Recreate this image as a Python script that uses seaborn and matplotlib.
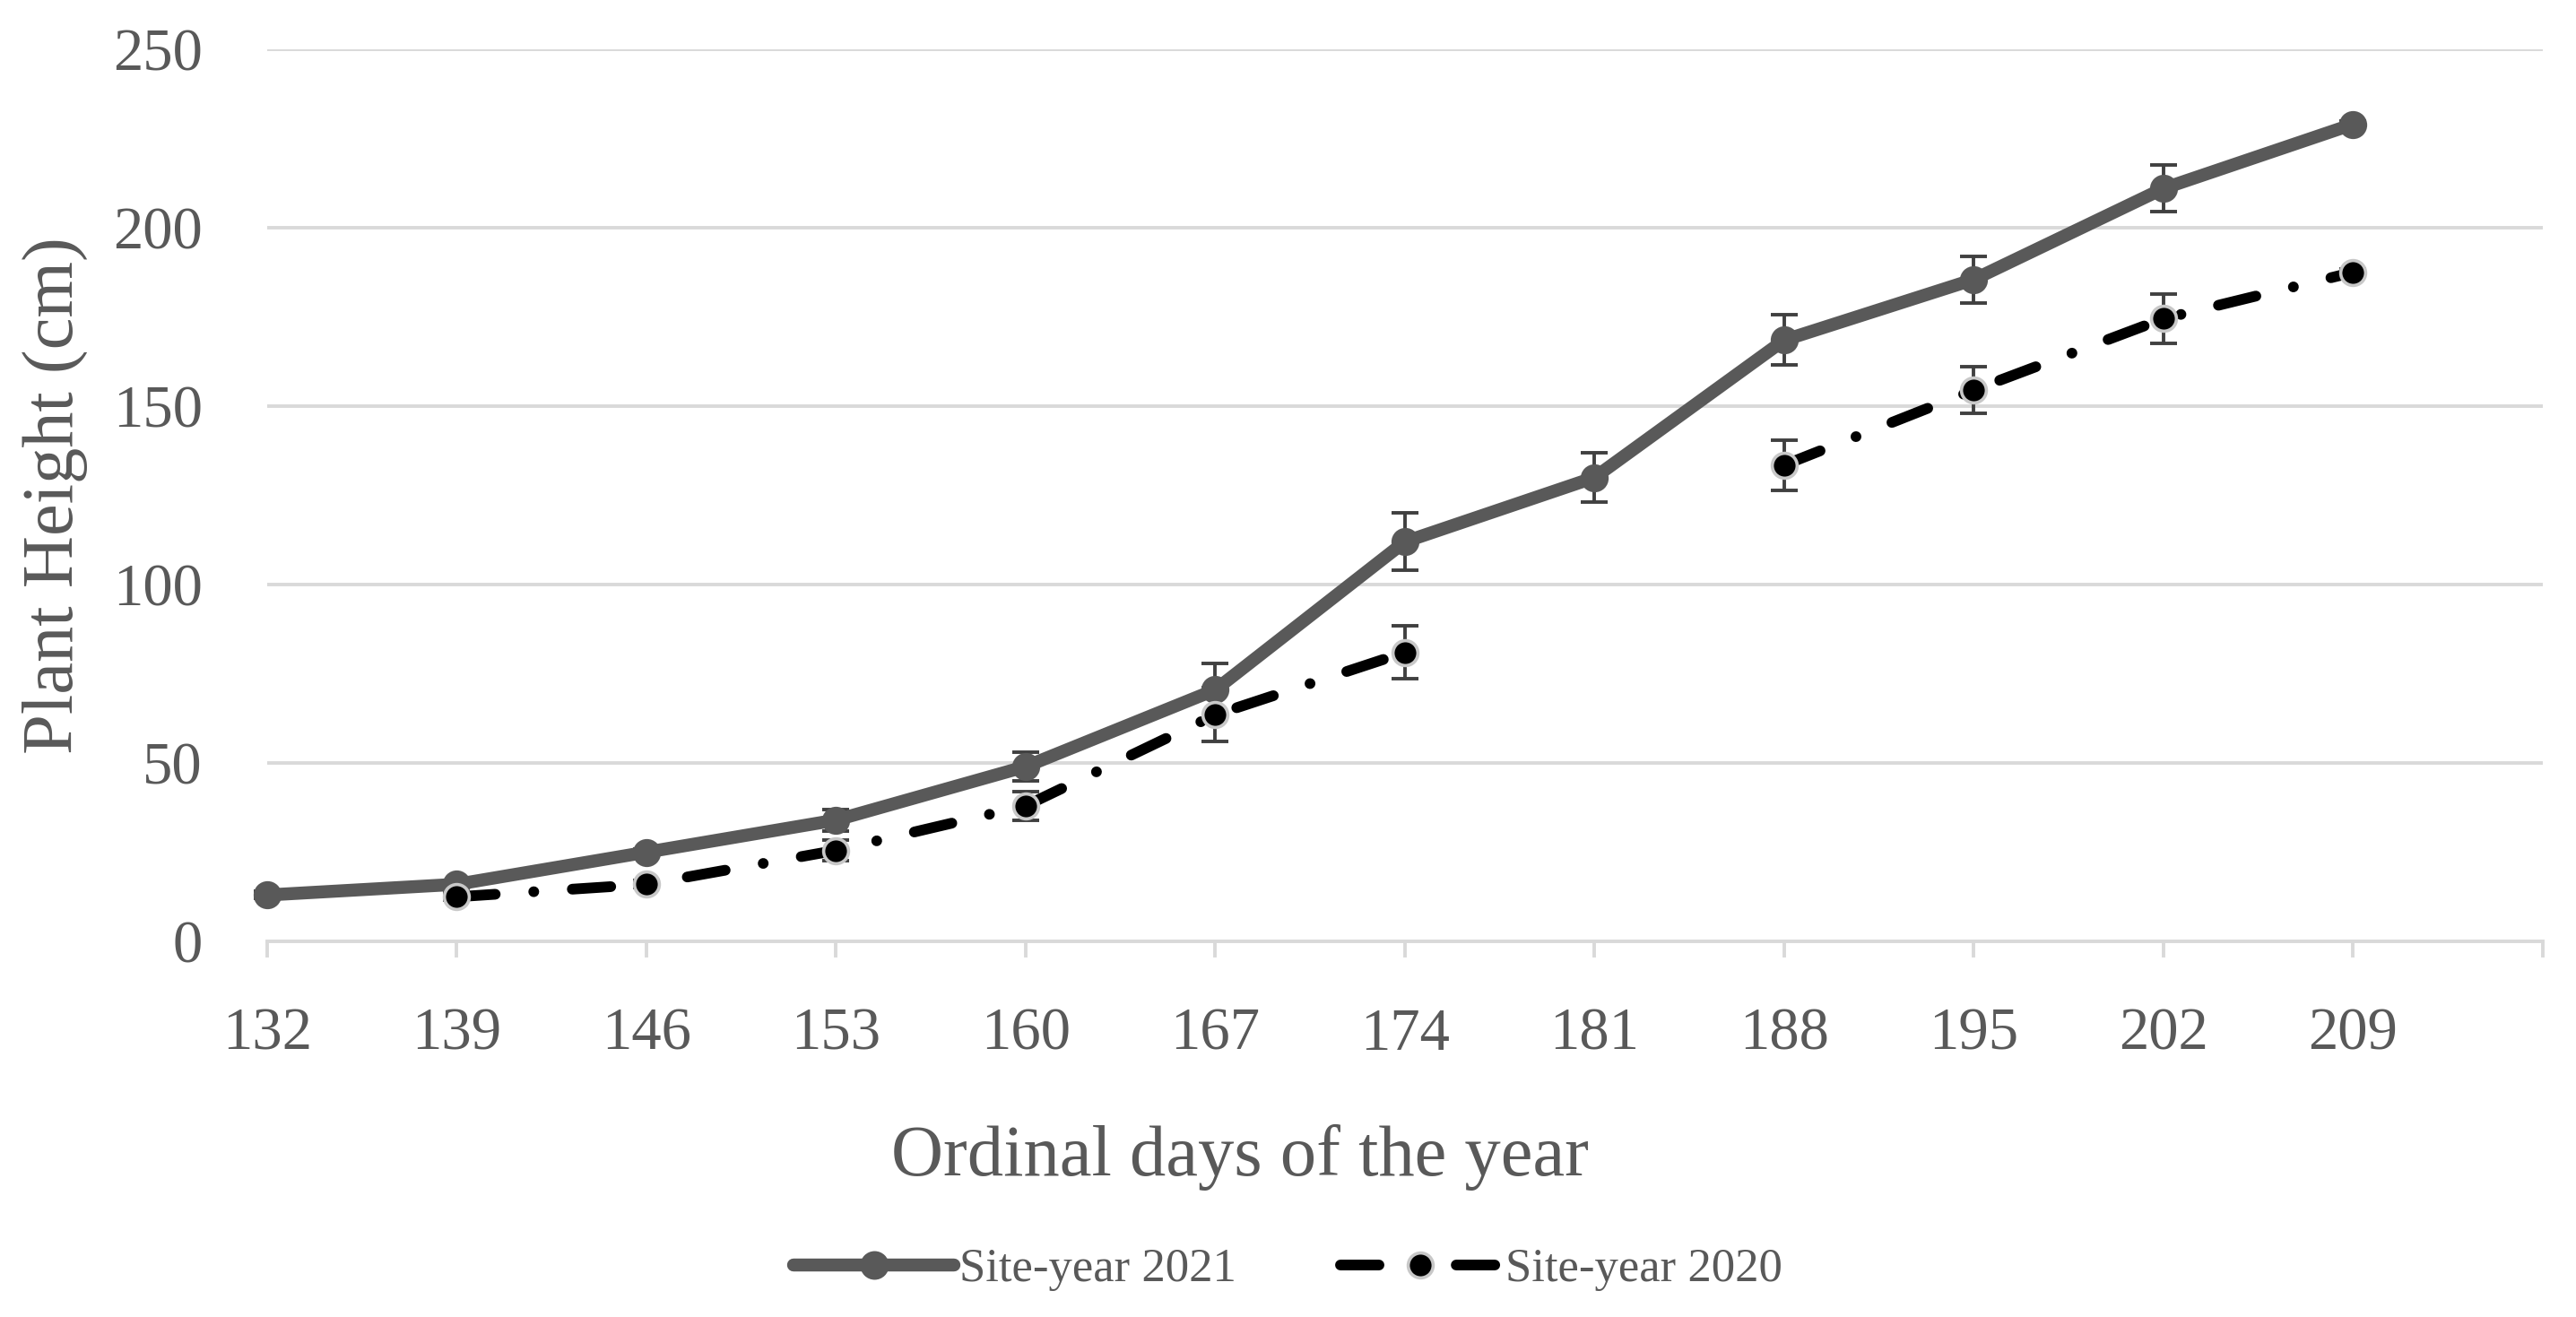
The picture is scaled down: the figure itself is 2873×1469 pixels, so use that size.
"""
Plant height over the season, site-years 2021 vs 2020.
"""

import numpy as np
import pandas as pd
import matplotlib.pyplot as plt
import seaborn as sns
from matplotlib.lines import Line2D

# Data
days = [132, 139, 146, 153, 160, 167, 174, 181, 188, 195, 202, 209]
height_2021 = [13, 16, 25, 34, 49, 70.5, 112, 130, 168.5, 185.5, 211, 229]
err_2021 = [1, 1, 1, 3, 4, 7.5, 8, 7, 7, 6.5, 6.5, 1]
height_2020 = [np.nan, 12.5, 16, 25.5, 38, 63.5, 81, np.nan, 133.5, 154.5, 174.5, 187.5]
err_2020 = [np.nan, 1, 1, 3, 4, 7.5, 7.5, np.nan, 7, 6.5, 7, 1]

df = pd.DataFrame({
    'Day': days,
    'pos': range(len(days)),
    'h21': height_2021,
    'e21': err_2021,
    'h20': height_2020,
    'e20': err_2020,
})
# 2020 has no reading at day 181 -> the line breaks there
df['seg20'] = np.where(df['pos'] < 7, 'a', 'b')

sns.set_style("white")
plt.rcParams['font.family'] = ['Liberation Serif', 'DejaVu Serif']

GRAY = '#595959'
LIGHT = '#d9d9d9'
DASH = (3.6, 3.6, 0.01, 3.6)

fig, ax = plt.subplots(figsize=(14.365, 7.345), dpi=200)
fig.subplots_adjust(left=0.1037, right=0.9871, bottom=0.2852, top=0.9626)

# error bars (behind lines)
ax.errorbar(df['pos'], df['h21'], yerr=df['e21'], fmt='none', ecolor='#404040',
            elinewidth=1.4, capsize=5.5, capthick=1.4, zorder=1.5, clip_on=False)
ax.errorbar(df['pos'], df['h20'], yerr=df['e20'], fmt='none', ecolor='#404040',
            elinewidth=1.4, capsize=5.5, capthick=1.4, zorder=1.5, clip_on=False)

# Site-year 2021
sns.lineplot(data=df, x='pos', y='h21', ax=ax, color=GRAY, linewidth=5.2,
             marker='o', markersize=10.5, markerfacecolor=GRAY, markeredgecolor=GRAY,
             zorder=3, clip_on=False, legend=False)

# Site-year 2020, two segments around the missing reading
d20 = df.dropna(subset=['h20'])
for seg, part in d20.groupby('seg20'):
    sns.lineplot(data=part, x='pos', y='h20', ax=ax, color='black', linewidth=4.3,
                 dashes=[DASH], style=part['seg20'],
                 marker='o', markersize=10, markerfacecolor='black',
                 markeredgecolor='#c8c8c8', markeredgewidth=1.3,
                 zorder=4, clip_on=False, legend=False)
for ln in ax.get_lines():
    ln.set_dash_capstyle('round')
    ln.set_solid_capstyle('round')

# axes styling
ax.set_xlim(0, 12)
ax.set_ylim(0, 250)
ax.set_xticks(range(13))
ax.set_xticklabels([str(d) for d in days] + [''])
ax.set_yticks(range(0, 251, 50))
ax.yaxis.grid(True, color=LIGHT, linewidth=1.4)
ax.xaxis.grid(False)
for side in ['left', 'right', 'top']:
    ax.spines[side].set_visible(False)
ax.spines['bottom'].set_color(LIGHT)
ax.spines['bottom'].set_linewidth(1.4)
ax.spines['bottom'].set_zorder(1)
ax.tick_params(axis='x', direction='out', length=6.6, width=1.4, color=LIGHT,
               pad=20, labelsize=24, labelcolor=GRAY, bottom=True)
ax.tick_params(axis='y', length=0, pad=26, labelsize=24, labelcolor=GRAY)

ax.set_xlabel('Ordinal days of the year', fontsize=29, color=GRAY)
ax.xaxis.set_label_coords(0.4275, -0.205)
ax.set_ylabel('Plant Height (cm)', fontsize=29, color=GRAY, labelpad=10)

handles = [
    Line2D([], [], color=GRAY, linewidth=5.2, marker='o', markersize=10.5,
           markerfacecolor=GRAY, markeredgecolor=GRAY, solid_capstyle='round'),
    Line2D([], [], color='black', linewidth=4.3, dashes=DASH,
           dash_capstyle='round', marker='o', markersize=10, markerfacecolor='black',
           markeredgecolor='#c8c8c8', markeredgewidth=1.3),
]
fig.legend(handles, ['Site-year 2021', 'Site-year 2020'], loc='center',
           bbox_to_anchor=(0.5, 0.036), ncol=2, frameon=False, fontsize=19,
           labelcolor=GRAY, handlelength=3.4, handletextpad=0.1, columnspacing=2.2)

fig.savefig('out.png', dpi=200)
